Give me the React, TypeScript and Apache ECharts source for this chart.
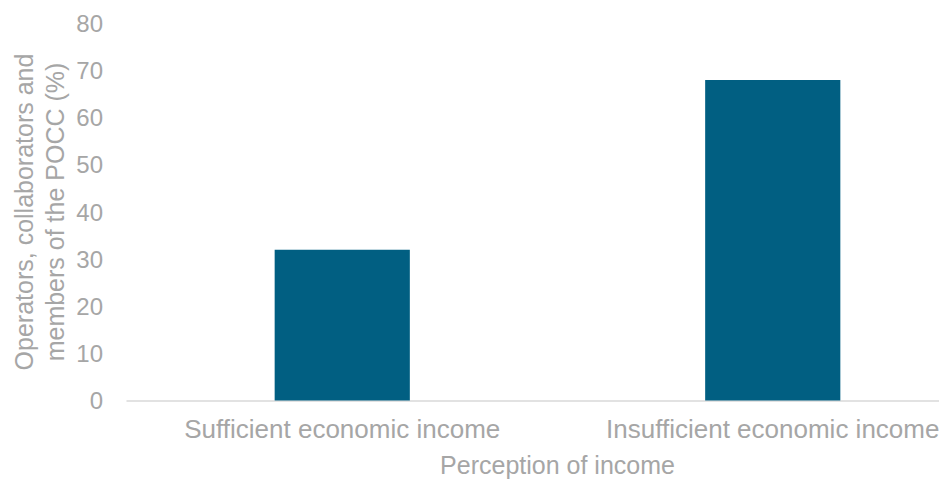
import React, { useEffect, useRef } from "react";
import * as echarts from "echarts";

const categories = ["Sufficient economic income", "Insufficient economic income"];
const values = [32, 68];
const yTicks = { min: 0, max: 80, interval: 10 };
const yAxisName = "Operators, collaborators and\nmembers of the POCC (%)";
const xAxisName = "Perception of income";

export default function App() {
  const ref = useRef<HTMLDivElement>(null);
  useEffect(() => {
    const chart = echarts.init(ref.current!, null, { renderer: "svg" });
    const gray = "#a6a6a6";
    const font = "Liberation Sans, Arial, sans-serif";
    chart.setOption({
      animation: false,
      grid: {
        left: 127,
        right: -49,
        top: 23.5,
        bottom: 79.5,
        containLabel: false,
        outerBoundsMode: "none",
      },
      xAxis: {
        type: "category",
        data: categories,
        name: xAxisName,
        nameLocation: "middle",
        nameGap: 53,
        nameMoveOverlap: false,
        nameTextStyle: { color: gray, fontSize: 25, fontFamily: font, lineHeight: 22 },
        axisLine: { lineStyle: { color: "#d9d9d9", width: 1.5 } },
        axisTick: { show: false },
        axisLabel: { color: gray, fontSize: 26, fontFamily: font, margin: 15, interval: 0 },
      },
      yAxis: {
        type: "value",
        min: yTicks.min,
        max: yTicks.max,
        interval: yTicks.interval,
        name: yAxisName,
        nameLocation: "middle",
        nameGap: 57,
        nameMoveOverlap: false,
        nameTextStyle: { color: gray, fontSize: 25, fontFamily: font, lineHeight: 31 },
        axisLine: { show: false },
        axisTick: { show: false },
        splitLine: { show: false },
        axisLabel: { color: gray, fontSize: 24, fontFamily: font, margin: 24 },
      },
      series: [
        {
          type: "bar",
          data: values,
          barWidth: "31.4%",
          itemStyle: { color: "#015f82" },
        },
      ],
    });
    return () => chart.dispose();
  }, []);
  return (
    <div
      ref={ref}
      style={{ position: "fixed", left: 0, top: 0, width: 939, height: 480, background: "#fff" }}
    />
  );
}
